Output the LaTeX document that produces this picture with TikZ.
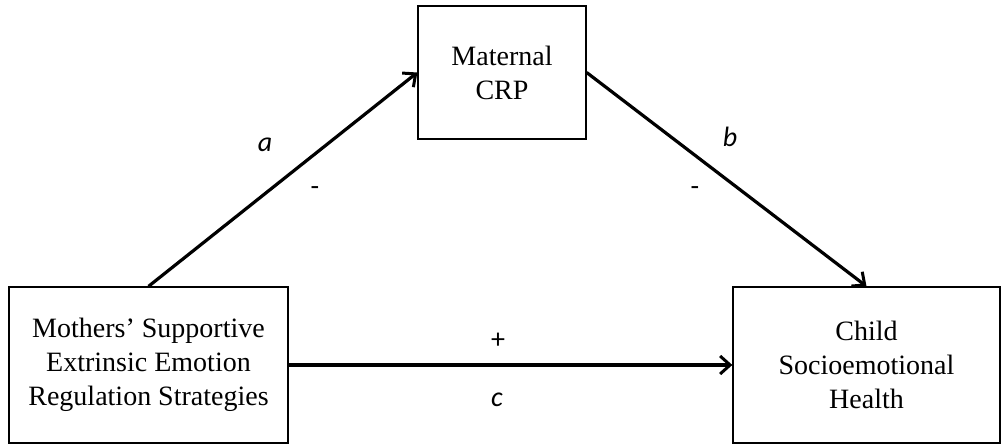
\documentclass[tikz,border=0pt]{standalone}
\usepackage{fontspec}
\setmainfont{Liberation Serif}
\newfontfamily\lblfont{Carlito}
\usetikzlibrary{arrows.meta}
\begin{document}
\begin{tikzpicture}[x=1pt,y=1pt,
  boxnode/.style={draw=black, line width=1.3pt, align=center, inner sep=0pt,
    font=\fontsize{28}{34}\selectfont},
  conn/.style={line width=3.2pt, -{Straight Barb[length=10pt,width=18pt,line width=3pt]}},
  lbl/.style={font=\lblfont\itshape\fontsize{28}{32}\selectfont, inner sep=0pt},
  sign/.style={font=\lblfont\fontsize{28}{32}\selectfont, inner sep=0pt}]
\useasboundingbox (0,0) rectangle (1002,444);
\node[boxnode, minimum width=168pt, minimum height=133pt] (crp) at (502,371.5) {Maternal\\CRP};
\node[boxnode, minimum width=279pt, minimum height=156pt] (left) at (148.5,79) {Mothers’ Supportive\\Extrinsic Emotion\\Regulation Strategies};
\node[boxnode, minimum width=267pt, minimum height=156pt] (right) at (866.5,79) {Child\\Socioemotional\\Health};
\draw[conn] (left.north) -- (crp.west);
\draw[conn] (crp.east) -- (right.north);
\draw[conn] (left.east) -- (right.west);
\node[lbl, anchor=base] (la) at (265,292) {a};
\node[sign] (sa) at (315,253) {-};
\node[lbl, anchor=base] (lb) at (730,297) {b};
\node[sign] (sb) at (695,253) {-};
\node[sign] (sp) at (498,103) {+};
\node[lbl, anchor=base] (lc) at (497,37) {c};
\end{tikzpicture}
\end{document}
